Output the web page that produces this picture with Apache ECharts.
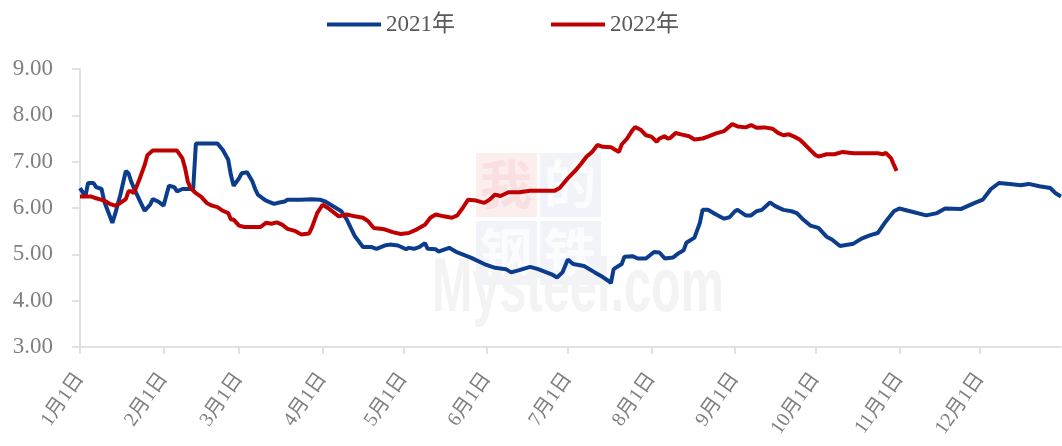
<!DOCTYPE html>
<html>
<head>
<meta charset="utf-8">
<script src="https://cdn.jsdelivr.net/npm/echarts@6/dist/echarts.min.js"></script>
<style>
html,body{margin:0;padding:0;background:#fff;}
#chart{width:1062px;height:446px;}
</style>
</head>
<body>
<div id="chart"></div>
<script>
// ---- data ----
const monthDays = [31, 28, 31, 30, 31, 30, 31, 31, 30, 31, 30, 31];
const seriesNames = ['2021年', '2022年'];
const yTicks = [3, 4, 5, 6, 7, 8, 9];
// [day index from 1月1日, value]
const data2021 = [
  [0,6.43],[2,6.25],[3,6.54],[5,6.54],[6,6.45],[8,6.41],[9,6.14],[12,5.68],[13,5.86],[15,6.29],
  [17,6.80],[18,6.75],[19,6.57],[20,6.43],[22,6.18],[24,5.94],[26,6.07],[27,6.19],[29,6.14],[31,6.05],
  [33,6.48],[35,6.45],[36,6.36],[38,6.41],[42,6.41],[43,7.39],[51,7.39],[53,7.25],[55,7.04],[56,6.71],
  [57,6.48],[59,6.64],[60,6.75],[62,6.77],[64,6.57],[65,6.41],[66,6.29],[68,6.20],[69,6.16],[72,6.09],
  [74,6.12],[76,6.14],[77,6.18],[82,6.18],[86,6.19],[89,6.18],[91,6.14],[93,6.07],[97,5.93],[99,5.75],
  [102,5.39],[105,5.16],[108,5.16],[110,5.12],[113,5.19],[115,5.21],[118,5.19],[121,5.11],[122,5.14],[124,5.12],
  [126,5.16],[128,5.24],[129,5.12],[132,5.11],[133,5.06],[137,5.14],[140,5.04],[145,4.93],[150,4.79],[154,4.71],
  [158,4.68],[160,4.61],[163,4.66],[167,4.73],[170,4.68],[175,4.57],[177,4.50],[179,4.61],[181,4.89],[183,4.79],
  [187,4.75],[191,4.61],[194,4.51],[196,4.43],[197,4.38],[198,4.68],[201,4.79],[202,4.95],[205,4.96],[207,4.91],
  [210,4.91],[213,5.05],[215,5.04],[217,4.91],[220,4.93],[222,5.02],[224,5.09],[225,5.25],[228,5.36],[230,5.68],
  [231,5.96],[233,5.96],[236,5.86],[239,5.77],[241,5.80],[243,5.93],[244,5.96],[247,5.84],[249,5.84],[251,5.93],
  [253,5.96],[256,6.12],[258,6.04],[261,5.96],[264,5.93],[266,5.89],[268,5.77],[271,5.62],[274,5.57],[277,5.38],
  [279,5.32],[282,5.18],[287,5.23],[290,5.34],[293,5.41],[296,5.46],[299,5.71],[302,5.93],[304,5.99],[308,5.93],
  [314,5.84],[318,5.89],[321,5.99],[327,5.98],[332,6.11],[335,6.18],[338,6.41],[341,6.54],[345,6.52],[349,6.49],
  [352,6.52],[356,6.47],[360,6.43],[362,6.32],[364,6.25]
];
const data2022 = [
  [0,6.25],[4,6.25],[6,6.21],[9,6.16],[11,6.09],[13,6.05],[15,6.11],[17,6.19],[18,6.36],[19,6.36],
  [20,6.32],[22,6.61],[24,6.93],[25,7.14],[27,7.24],[36,7.24],[38,7.07],[39,6.86],[40,6.57],[41,6.43],
  [43,6.32],[45,6.24],[47,6.11],[49,6.05],[51,6.02],[53,5.94],[55,5.89],[56,5.75],[57,5.75],[59,5.62],
  [61,5.59],[65,5.59],[67,5.59],[69,5.68],[71,5.66],[73,5.69],[75,5.64],[77,5.55],[80,5.50],[82,5.43],
  [85,5.45],[86,5.57],[88,5.89],[90,6.07],[92,6.00],[94,5.91],[96,5.82],[99,5.86],[102,5.82],[105,5.79],
  [107,5.71],[109,5.57],[113,5.54],[116,5.48],[119,5.44],[122,5.46],[125,5.54],[128,5.64],[130,5.79],[132,5.86],
  [135,5.82],[138,5.79],[140,5.84],[142,6.00],[144,6.18],[147,6.16],[150,6.11],[152,6.18],[154,6.29],[156,6.26],
  [159,6.34],[163,6.34],[167,6.37],[176,6.37],[178,6.43],[181,6.64],[184,6.82],[186,6.96],[188,7.11],[190,7.21],
  [192,7.36],[194,7.32],[197,7.31],[200,7.21],[201,7.37],[203,7.50],[205,7.68],[206,7.75],[208,7.69],[210,7.57],
  [212,7.54],[214,7.43],[215,7.50],[217,7.55],[218,7.50],[219,7.51],[221,7.62],[223,7.59],[226,7.55],[228,7.48],
  [231,7.50],[233,7.54],[236,7.61],[239,7.66],[240,7.71],[242,7.81],[244,7.76],[247,7.74],[249,7.79],[251,7.73],
  [254,7.74],[257,7.71],[259,7.62],[261,7.57],[263,7.59],[265,7.54],[267,7.48],[269,7.37],[271,7.25],[273,7.14],
  [274,7.11],[277,7.16],[280,7.16],[283,7.21],[287,7.18],[296,7.18],[298,7.16],[299,7.19],[301,7.07],[302,6.93],
  [303,6.80]
];

// ---- categories (one per calendar day) ----
const categories = [];
monthDays.forEach((n, m) => { for (let d = 1; d <= n; d++) categories.push((m + 1) + '月' + d + '日'); });
const isMonthStart = (idx) => /月1日$/.test(categories[idx]);

const FONT = '"Liberation Serif", "Noto Sans CJK SC", serif';
const chart = echarts.init(document.getElementById('chart'), null, {renderer: 'canvas'});
chart.setOption({
  backgroundColor: '#ffffff',
  animation: false,
  legend: {
    data: seriesNames,
    left: 322, top: 8,
    icon: 'rect',
    itemWidth: 54, itemHeight: 4,
    itemGap: 96,
    textStyle: {fontFamily: FONT, fontSize: 23, color: '#595959'}
  },
  graphic: [
    {type: 'rect', left: 476, top: 153, shape: {width: 61, height: 64}, style: {fill: '#fdeeee'}, silent: true, z: -10},
    {type: 'rect', left: 540, top: 153, shape: {width: 61, height: 64}, style: {fill: '#f1f3f8'}, silent: true, z: -10},
    {type: 'rect', left: 476, top: 221, shape: {width: 61, height: 64}, style: {fill: '#f1f3f8'}, silent: true, z: -10},
    {type: 'rect', left: 540, top: 221, shape: {width: 61, height: 64}, style: {fill: '#f1f3f8'}, silent: true, z: -10},
    {type: 'text', left: 480, top: 158, style: {text: '我', font: 'bold 52px "Noto Sans CJK SC"', fill: '#f9dfe0'}, silent: true, z: -9},
    {type: 'text', left: 544, top: 158, style: {text: '的', font: 'bold 52px "Noto Sans CJK SC"', fill: '#fbfcfe'}, silent: true, z: -9},
    {type: 'text', left: 480, top: 226, style: {text: '钢', font: 'bold 52px "Noto Sans CJK SC"', fill: '#fbfcfe'}, silent: true, z: -9},
    {type: 'text', left: 544, top: 226, style: {text: '铁', font: 'bold 52px "Noto Sans CJK SC"', fill: '#fbfcfe'}, silent: true, z: -9},
    {type: 'text', x: 432, y: 252, scaleX: 0.64, style: {text: 'Mysteel.com', font: 'bold 76px "Liberation Sans"', fill: '#f3f3f3'}, silent: true, z: -9}
  ],
  grid: {left: 80, right: 1, top: 69, bottom: 99, containLabel: false},
  xAxis: {
    type: 'category',
    data: categories,
    boundaryGap: false,
    axisLine: {lineStyle: {color: '#d9d9d9', width: 1.5}},
    axisTick: {show: true, interval: (i) => isMonthStart(i), length: 7, lineStyle: {color: '#d9d9d9', width: 1.5}},
    axisLabel: {
      interval: (i) => isMonthStart(i),
      rotate: 55,
      margin: 28,
      fontFamily: FONT, fontSize: 20, color: '#7f7f7f'
    },
    splitLine: {show: false}
  },
  yAxis: {
    type: 'value',
    min: yTicks[0], max: yTicks[yTicks.length - 1], interval: 1,
    axisLine: {show: true, lineStyle: {color: '#d9d9d9', width: 1.5}},
    axisTick: {show: true, length: 8, lineStyle: {color: '#d9d9d9', width: 1.5}},
    axisLabel: {margin: 27, fontFamily: FONT, fontSize: 23, color: '#7f7f7f', formatter: (v) => v.toFixed(2)},
    splitLine: {show: false}
  },
  series: [
    {name: seriesNames[0], type: 'line', data: data2021, showSymbol: false, symbol: 'none',
     lineStyle: {color: '#0b3d8c', width: 4}, itemStyle: {color: '#0b3d8c'}, z: 3},
    {name: seriesNames[1], type: 'line', data: data2022, showSymbol: false, symbol: 'none',
     lineStyle: {color: '#c00000', width: 4}, itemStyle: {color: '#c00000'}, z: 4}
  ]
});
</script>
</body>
</html>
